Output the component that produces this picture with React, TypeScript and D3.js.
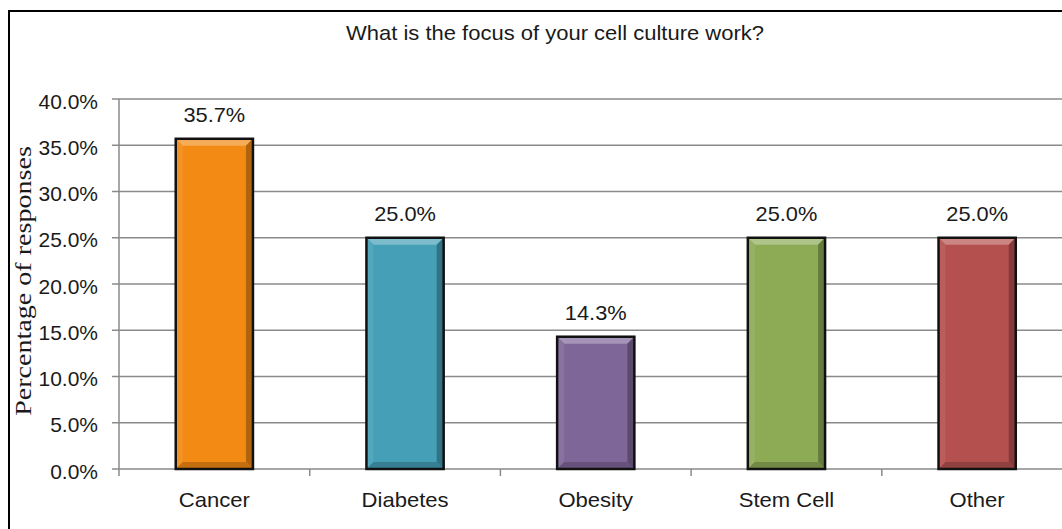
import React from "react";
import * as d3 from "d3";

const categories = ["Cancer", "Diabetes", "Obesity", "Stem Cell", "Other"];
const values = [35.7, 25.0, 14.3, 25.0, 25.0];
const colors = ["#F28A13", "#449FB7", "#7F6698", "#8DAA55", "#B4504E"];
const yTicks = [0, 5, 10, 15, 20, 25, 30, 35, 40];

const W = 1062;
const H = 529;
const left = 119;
const top = 99;
const bottom = 469;
const bandW = 190.7;

// Text drawn slightly widened, the way the chart's labels are set.
function Label({ x, y, anchor = "middle", size = 20, sx = 1.08, children }: any) {
  return (
    <text
      transform={`translate(${x},${y}) scale(${sx},1)`}
      textAnchor={anchor}
      fontSize={size}
      fill="#1a1a1a"
    >
      {children}
    </text>
  );
}

export default function App() {
  const x = d3
    .scaleBand<string>()
    .domain(categories)
    .range([left, left + bandW * categories.length])
    .padding(0);
  const y = d3.scaleLinear().domain([0, 40]).range([bottom, top]);
  const barW = x.bandwidth() * 0.405;
  const bev = 7;
  const fmt = (v: number) => v.toFixed(1) + "%";

  return (
    <svg
      width={W}
      height={H}
      style={{ position: "absolute", left: 0, top: 0, background: "#fff" }}
      fontFamily="Liberation Sans, Arial, sans-serif"
    >
      <rect x={9} y={11} width={W + 20} height={H + 20} fill="#fff" stroke="#000" strokeWidth={2} />
      <Label x={555} y={40} size={20} sx={1.1}>
        What is the focus of your cell culture work?
      </Label>

      {/* gridlines and y ticks */}
      {yTicks.map((t) => (
        <g key={t}>
          <line x1={left} x2={W} y1={y(t)} y2={y(t)} stroke="#8a8a8a" strokeWidth={1.5} />
          <line x1={left - 7} x2={left} y1={y(t)} y2={y(t)} stroke="#8a8a8a" strokeWidth={1.5} />
          <Label x={98} y={y(t) + 9.5} anchor="end" size={20} sx={1.05}>
            {fmt(t)}
          </Label>
        </g>
      ))}
      <line x1={left} x2={left} y1={top} y2={bottom} stroke="#8a8a8a" strokeWidth={1.5} />

      {/* x axis ticks */}
      {d3.range(categories.length + 1).map((i) => {
        const tx = left + bandW * i;
        return <line key={i} x1={tx} x2={tx} y1={bottom} y2={bottom + 7} stroke="#8a8a8a" strokeWidth={1.5} />;
      })}

      {/* bars with bevelled edges */}
      {categories.map((c, i) => {
        const cx = (x(c) as number) + x.bandwidth() / 2;
        const x0 = cx - barW / 2;
        const x1 = cx + barW / 2;
        const y0 = y(values[i]);
        const y1 = bottom;
        const base = d3.color(colors[i])!;
        const light = d3.interpolateRgb(colors[i], "#ffffff")(0.3);
        const lightSide = d3.interpolateRgb(colors[i], "#ffffff")(0.08);
        const dark = base.darker(0.9).formatHex();
        const darkBottom = base.darker(0.6).formatHex();
        return (
          <g key={c}>
            <rect x={x0} y={y0} width={barW} height={y1 - y0} fill={colors[i]} />
            <polygon
              points={`${x0},${y0} ${x1},${y0} ${x1 - bev},${y0 + bev} ${x0 + bev},${y0 + bev}`}
              fill={light}
            />
            <polygon
              points={`${x0},${y0} ${x0 + bev},${y0 + bev} ${x0 + bev},${y1 - bev} ${x0},${y1}`}
              fill={lightSide}
            />
            <polygon
              points={`${x1},${y0} ${x1},${y1} ${x1 - bev},${y1 - bev} ${x1 - bev},${y0 + bev}`}
              fill={dark}
            />
            <polygon
              points={`${x0},${y1} ${x1},${y1} ${x1 - bev},${y1 - bev} ${x0 + bev},${y1 - bev}`}
              fill={darkBottom}
            />
            <rect x={x0} y={y0} width={barW} height={y1 - y0} fill="none" stroke="#111" strokeWidth={2.5} />
            <Label x={cx} y={y0 - 17} size={20} sx={1.09}>
              {fmt(values[i])}
            </Label>
            <Label x={cx} y={507} size={21} sx={1.05}>
              {c}
            </Label>
          </g>
        );
      })}

      <text
        transform={`translate(31,281) rotate(-90) scale(1.17,1)`}
        textAnchor="middle"
        fontSize={24}
        fontFamily="Liberation Serif, Times New Roman, serif"
        fill="#1a1a1a"
      >
        Percentage of responses
      </text>
    </svg>
  );
}
